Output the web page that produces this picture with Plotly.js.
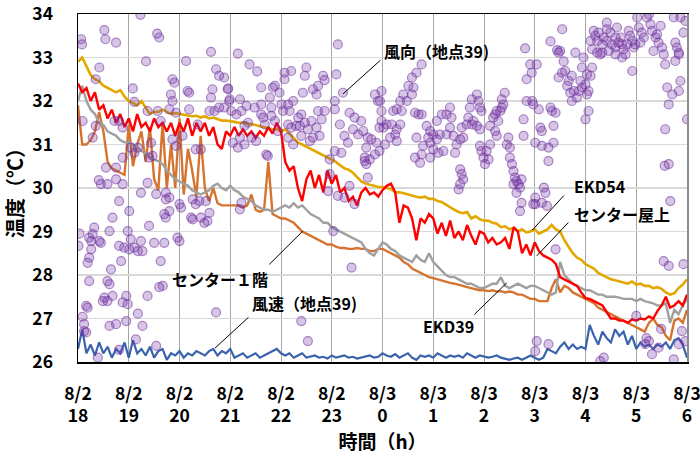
<!DOCTYPE html>
<html>
<head>
<meta charset="utf-8">
<script src="https://cdn.plot.ly/plotly-3.0.1.min.js"></script>
<style>html,body{margin:0;padding:0;background:#fff;}#chart{width:700px;height:456px;}</style>
</head>
<body>
<div id="chart"></div>
<script>
// x positions: hours elapsed since 8/2 18:00, 5-minute readings
const hours = Array.from({length: 145}, (_, i) => i / 12);
const tickHours = [0,1,2,3,4,5,6,7,8,9,10,11,12];
const tickLabels = ['8/2<br>18','8/2<br>19','8/2<br>20','8/2<br>21','8/2<br>22','8/2<br>23',
  '8/3<br>0','8/3<br>1','8/3<br>2','8/3<br>3','8/3<br>4','8/3<br>5','8/3<br>6'];

const ekd54 = [
 32.90,33.00,32.80,32.60,32.50,32.45,32.35,32.30,32.25,32.20,32.25,32.10,
 32.00,31.95,31.90,32.00,31.85,31.70,31.75,31.75,31.80,31.75,31.70,31.72,
 31.70,31.68,31.66,31.65,31.66,31.62,31.65,31.60,31.62,31.58,31.55,31.55,
 31.54,31.52,31.50,31.50,31.48,31.47,31.45,31.42,31.40,31.38,31.35,31.35,
 31.30,31.35,31.25,31.15,31.05,31.00,30.95,30.90,30.85,30.80,30.75,30.70,
 30.65,30.60,30.52,30.45,30.42,30.35,30.25,30.15,30.10,30.08,30.05,30.02,
 30.02,30.00,29.98,29.90,29.90,29.88,29.85,29.82,29.80,29.78,29.80,29.75,
 29.75,29.70,29.68,29.62,29.55,29.50,29.45,29.42,29.45,29.30,29.35,29.28,
 29.25,29.25,29.20,29.18,29.10,29.12,29.05,29.08,29.00,29.05,28.98,29.00,
 29.05,28.95,29.00,29.05,29.15,29.05,29.00,28.80,28.65,28.50,28.40,28.35,
 28.25,28.20,28.15,28.05,28.00,27.95,27.90,27.88,27.85,27.82,27.80,27.85,
 27.78,27.80,27.75,27.75,27.70,27.72,27.68,27.60,27.55,27.58,27.70,27.78,
 27.90];

const centerRoof = [
 32.4,32.2,32.3,32.0,32.2,31.8,31.9,31.6,31.8,31.5,31.7,31.4,
 31.6,31.3,31.7,31.4,31.5,31.3,31.6,31.4,31.5,31.3,31.5,31.2,
 31.5,31.3,31.6,31.2,31.5,31.3,31.5,31.2,31.4,31.0,30.9,31.3,
 31.2,31.4,31.2,31.35,31.2,31.3,31.15,31.3,31.2,31.4,31.25,31.5,
 31.3,30.6,30.4,30.5,30.0,29.7,30.2,30.4,30.0,30.3,29.9,30.4,
 30.1,30.3,29.9,30.0,29.7,29.8,29.6,29.9,30.0,29.85,29.9,29.8,
 29.95,30.05,30.1,29.9,29.2,29.6,29.55,29.3,28.8,29.3,29.2,29.4,
 29.3,28.95,29.2,28.9,29.25,28.85,29.0,28.8,29.15,28.9,28.7,29.0,
 28.95,28.75,28.85,28.7,28.75,28.85,28.6,29.1,29.0,28.5,28.7,28.45,
 28.75,28.55,28.45,28.4,28.35,28.25,27.95,27.9,27.85,27.8,27.75,27.6,
 27.47,27.45,27.4,27.35,27.3,27.15,27.0,27.0,26.95,26.95,26.9,26.98,
 26.95,27.0,26.98,27.05,27.0,27.17,27.3,27.5,27.25,27.3,27.4,27.3,
 27.55];

const ekd39 = [
 32.0,32.35,32.0,31.8,31.7,31.5,31.45,31.3,31.25,31.2,31.1,31.05,
 31.05,31.0,30.95,30.85,30.8,30.7,30.65,30.62,30.55,30.4,30.3,30.2,
 30.15,30.1,30.05,29.95,29.9,29.85,29.9,29.95,30.05,30.1,30.0,29.95,
 30.05,29.95,29.9,29.8,29.75,29.7,29.6,29.55,29.5,29.5,29.45,29.5,
 29.55,29.6,29.55,29.65,29.55,29.6,29.5,29.4,29.35,29.3,29.2,29.2,
 29.1,29.05,29.0,28.95,28.9,28.85,28.8,28.75,28.6,28.5,28.45,28.6,
 28.75,28.7,28.6,28.55,28.45,28.4,28.35,28.3,28.45,28.35,28.3,28.5,
 28.3,28.2,28.1,28.0,27.95,27.95,27.9,27.85,27.8,27.8,27.75,27.7,
 27.7,27.75,27.8,27.8,27.95,27.75,27.7,27.75,27.8,27.75,27.7,27.75,
 27.75,27.7,27.65,27.6,27.55,27.6,28.3,28.0,27.9,27.8,27.75,27.7,
 27.65,27.65,27.6,27.55,27.55,27.5,27.5,27.5,27.48,27.45,27.45,27.45,
 27.4,27.45,27.4,27.38,27.35,27.3,27.3,27.35,26.9,27.2,27.1,27.3,
 27.45];

const center1F = [
 31.9,31.0,31.0,31.1,31.3,31.75,31.3,30.6,30.45,30.4,30.35,30.3,
 31.45,30.5,31.0,31.3,30.6,31.4,30.2,29.95,31.5,30.0,31.0,30.0,
 31.6,29.85,30.9,30.4,29.8,31.2,30.0,29.7,30.0,29.65,29.6,29.6,
 29.6,29.6,29.6,29.55,29.6,29.85,29.5,29.45,29.5,30.6,29.4,29.35,
 29.3,29.3,29.25,29.2,29.1,29.0,28.95,28.9,28.85,28.8,28.75,28.7,
 28.7,28.65,28.62,28.62,28.6,28.6,28.62,28.6,28.6,28.55,28.55,28.6,
 28.6,28.55,28.5,28.45,28.4,28.3,28.25,28.15,28.1,28.05,28.0,27.95,
 27.93,27.9,27.88,27.85,27.82,27.8,27.78,27.75,27.72,27.7,27.68,27.65,
 27.65,27.63,27.65,27.62,27.63,27.6,27.62,27.6,27.55,27.55,27.5,27.45,
 27.45,27.4,27.4,27.4,27.7,27.9,27.6,27.75,27.7,27.6,27.55,27.5,
 27.45,27.4,27.35,27.25,27.2,27.15,27.1,27.05,27.0,26.95,26.9,26.85,
 26.8,26.75,26.7,26.9,27.0,26.85,26.8,26.6,26.5,26.95,27.0,26.9,
 27.2];

const windSpeed = [
 26.3,26.75,26.2,26.4,26.15,26.45,26.2,26.35,26.1,26.3,26.2,26.45,
 26.1,26.5,26.2,26.3,26.15,26.35,26.1,26.25,26.3,26.05,26.2,26.15,
 26.25,26.1,26.2,26.15,26.25,26.2,26.15,26.25,26.3,26.15,26.25,26.2,
 26.3,26.1,26.15,26.2,26.1,26.15,26.2,26.1,26.15,26.2,26.25,26.3,
 26.2,26.15,26.2,26.1,26.15,26.2,26.1,26.12,26.15,26.1,26.12,26.08,
 26.15,26.1,26.12,26.15,26.1,26.12,26.08,26.1,26.12,26.15,26.1,26.12,
 26.2,26.15,26.12,26.18,26.1,26.15,26.2,26.1,26.05,26.15,26.12,26.15,
 26.1,26.2,26.15,26.1,26.15,26.12,26.15,26.1,26.2,26.15,26.1,26.15,
 26.12,26.1,26.12,26.15,26.1,26.08,26.05,26.08,26.1,26.05,26.1,26.15,
 26.1,26.05,26.1,26.3,26.25,26.2,26.35,26.45,26.3,26.4,26.3,26.35,
 26.3,26.85,26.6,26.4,26.7,26.55,26.45,26.75,26.6,26.7,26.4,26.6,
 26.3,26.45,26.35,26.4,26.3,26.4,26.35,26.45,26.3,26.5,26.55,26.4,
 26.1];

// wind direction readings (plotted on the same scale as in the original figure)
const windHour = [
 0.06,0.08,0.52,0.54,0.75,1.23,1.56,1.60,1.34,2.62,
 2.13,0.42,0.35,2.72,2.78,2.88,2.95,1.86,1.90,1.83,
 1.86,2.16,2.19,1.08,1.11,2.62,2.69,2.78,2.88,2.98,
 2.59,2.65,1.80,1.93,2.19,1.37,1.57,1.63,0.72,0.88,
 0.81,0.35,0.09,0.29,2.36,2.32,2.42,2.06,1.93,1.86,
 1.44,1.40,1.18,1.11,1.04,1.47,0.88,0.75,0.55,0.58,
 0.75,0.41,0.45,0.88,1.37,1.24,1.73,1.80,2.00,2.03,
 1.73,1.54,2.26,2.32,2.39,2.52,2.59,2.42,2.49,2.55,
 2.23,2.26,1.70,1.73,1.80,1.40,1.01,0.81,0.68,0.62,
 0.32,0.29,0.22,0.26,0.42,0.45,0.03,0.01,0.26,0.22,
 0.19,0.81,0.91,1.01,1.11,1.18,1.27,0.98,1.04,1.24,
 1.50,1.70,1.96,2.00,0.85,0.65,1.63,0.22,0.58,0.62,
 0.16,0.19,0.09,0.12,0.52,0.58,0.68,0.49,0.95,0.88,
 0.98,1.37,1.60,1.67,1.18,1.27,0.62,0.75,0.95,1.14,
 1.54,0.81,0.39,2.72,0.12,0.16,
 3.15,3.38,3.53,3.61,3.19,2.99,2.96,3.32,3.22,3.12,
 3.02,3.48,3.61,3.65,3.81,3.78,3.84,3.88,3.97,3.81,
 3.88,4.01,4.04,4.14,4.17,4.24,4.07,4.20,4.07,4.50,
 4.47,4.43,4.63,4.70,4.83,4.86,4.73,4.73,4.80,4.86,
 4.60,4.47,4.40,4.37,4.34,4.14,4.30,4.53,4.70,4.76,
 4.63,4.57,4.40,4.20,4.14,4.24,3.94,3.68,3.61,3.35,
 3.28,3.19,3.28,3.15,3.05,3.51,3.71,3.74,3.42,5.06,
 5.16,5.22,5.12,5.09,5.06,5.35,5.45,5.42,5.25,5.32,
 5.19,5.06,4.96,4.96,4.93,5.12,5.45,5.35,5.25,5.03,
 5.68,5.65,5.62,5.58,5.52,5.71,5.78,5.65,5.75,5.85,
 5.94,5.88,5.94,5.98,5.91,5.98,5.85,5.68,5.71,5.39,
 4.40,4.53,3.19,3.22,
 8.81,8.91,8.94,8.84,6.77,6.67,6.58,6.51,6.61,6.58,
 6.41,6.35,6.48,6.38,6.28,6.21,6.18,6.02,6.08,5.98,
 5.95,6.15,6.25,6.28,6.35,6.28,6.05,6.64,6.71,6.77,
 6.87,6.94,7.00,6.90,6.94,6.67,6.80,6.77,6.64,6.74,
 7.00,6.94,7.10,7.20,7.07,7.13,7.26,7.33,7.36,7.33,
 7.17,7.26,7.07,7.40,7.53,7.59,7.46,7.43,7.56,7.66,
 7.76,7.69,7.79,7.86,7.92,7.72,7.76,7.86,7.89,7.92,
 7.95,7.53,7.56,7.59,7.50,7.53,8.12,8.18,8.22,8.25,
 8.32,8.35,8.38,8.41,8.35,8.28,8.22,8.25,8.12,8.05,
 7.99,8.02,8.09,7.92,7.95,8.48,8.51,8.45,8.51,8.55,
 8.58,8.61,8.64,8.68,8.71,8.64,8.74,8.71,8.74,8.58,
 8.78,8.78,8.84,8.97,8.97,9.01,
 9.54,9.31,9.44,9.47,9.50,9.57,9.54,9.60,9.47,9.67,
 9.64,9.73,9.77,9.70,9.73,9.83,9.87,9.93,9.90,10.00,
 10.06,10.03,10.10,9.93,9.96,10.03,10.06,10.00,9.80,9.31,
 9.34,9.41,9.11,9.14,9.37,9.37,9.27,9.14,9.01,8.95,
 9.08,9.04,9.27,9.18,9.21,9.24,9.14,9.01,9.41,9.04,
 9.27,10.29,10.36,9.01,10.16,10.19,10.26,10.23,10.33,10.36,
 10.42,10.42,10.49,10.52,10.59,10.65,10.62,10.69,10.72,10.75,
 10.79,10.82,10.85,10.88,10.92,10.92,10.95,10.98,11.02,11.05,
 11.11,11.08,11.15,11.21,11.25,11.28,11.31,11.34,11.38,11.41,
 11.44,11.48,11.51,11.54,11.57,11.61,11.64,11.57,11.64,11.56,
 11.67,11.77,11.80,11.84,11.84,11.77,11.84,11.87,11.71,11.74,
 11.87,11.97,11.93,12.00,11.54,11.64,11.93,11.90,11.97,11.84,
 11.74,11.18,11.25,11.31,11.44,10.23,10.13,10.10,10.13,10.29,
 10.46,10.59,10.72,10.33,10.59,10.42,11.00,11.49,11.20];

const windDir = [
 33.42,33.30,33.63,33.42,33.34,33.98,33.55,33.46,32.91,33.13,
 32.92,32.77,32.50,32.73,32.58,32.54,32.27,32.50,32.42,32.15,
 32.00,32.23,32.19,32.29,31.98,32.08,31.77,31.85,31.85,32.00,
 31.77,32.27,31.81,31.73,31.81,31.77,31.77,31.54,31.54,31.39,
 31.54,31.43,31.54,31.16,31.46,30.89,30.89,31.20,30.97,31.12,
 31.04,30.70,30.93,30.81,30.93,30.74,30.70,30.47,30.47,30.09,
 30.20,30.18,30.09,30.09,30.12,29.89,29.89,29.78,29.63,29.55,
 29.74,29.86,29.74,29.63,29.70,29.70,29.43,29.32,29.20,29.24,
 29.32,29.28,29.40,29.32,29.47,29.13,29.47,29.70,29.32,29.01,
 29.09,28.94,28.86,28.78,28.78,28.74,28.95,28.67,28.59,28.40,
 28.28,28.67,28.63,28.59,28.63,28.55,28.55,29.01,28.82,28.78,
 28.74,28.74,28.86,28.78,28.32,28.13,28.32,27.86,27.86,27.79,
 27.29,27.25,27.04,26.87,27.48,27.40,27.52,27.40,27.52,27.37,
 27.33,27.52,27.72,27.75,27.11,26.83,26.83,26.87,26.94,26.52,
 26.37,26.28,26.10,27.14,26.71,26.68,
 33.09,32.84,32.68,32.31,32.04,32.04,32.29,31.89,31.77,31.69,
 31.77,31.85,31.92,31.62,31.85,32.08,32.31,32.35,32.19,31.66,
 31.54,31.92,31.77,31.92,31.77,32.00,32.65,32.69,32.50,32.77,
 32.58,32.19,32.27,32.15,32.58,32.48,32.35,31.77,31.58,31.77,
 31.54,31.50,31.69,31.43,31.62,31.46,31.43,31.35,31.39,31.20,
 31.16,31.08,31.20,31.39,31.16,31.00,31.31,31.46,31.69,31.50,
 31.43,31.16,31.00,30.93,31.04,31.08,30.77,30.74,31.16,32.00,
 31.46,32.19,33.30,32.61,31.81,31.73,31.62,31.35,31.20,31.04,
 30.81,30.85,30.66,30.32,29.93,29.82,29.63,30.05,29.78,29.01,
 30.93,30.70,31.31,31.54,31.23,31.16,31.12,30.62,30.66,30.77,
 30.85,31.04,31.39,31.54,32.00,32.23,32.15,30.55,30.24,28.17,
 26.94,26.48,29.51,29.66,
 33.21,32.84,32.65,32.50,32.84,32.65,32.54,32.35,32.31,32.15,
 32.15,32.00,32.00,31.77,31.81,31.77,31.46,31.39,31.46,31.77,
 32.00,31.16,31.23,31.35,31.46,31.08,31.00,31.73,31.69,31.69,
 31.43,31.31,31.23,31.16,31.04,31.16,30.97,30.77,30.70,30.58,
 30.89,30.70,30.81,30.85,31.12,31.23,31.23,31.39,31.62,31.85,
 31.69,31.69,31.54,31.20,31.12,31.16,31.00,30.81,31.39,31.46,
 31.46,31.62,31.54,31.43,31.35,31.85,32.04,32.15,32.00,31.85,
 31.77,30.43,30.32,30.20,29.97,30.09,31.43,31.62,31.69,31.77,
 31.77,31.85,31.92,32.19,32.04,31.54,31.31,31.20,31.00,30.85,
 30.70,30.55,30.66,30.97,30.85,31.16,30.93,31.00,30.70,30.55,
 30.39,30.24,30.16,30.09,30.01,29.89,29.66,29.47,30.20,30.09,
 31.58,31.20,32.00,31.92,29.63,29.78,
 33.65,33.37,33.17,33.11,33.15,32.91,32.65,32.69,32.54,32.46,
 32.35,32.58,32.23,32.19,32.00,32.08,32.23,32.31,32.46,32.38,
 32.23,32.15,32.58,32.77,33.00,32.61,31.77,31.58,33.11,31.85,
 31.77,31.73,31.39,31.31,31.43,31.04,30.93,30.97,31.04,32.00,
 31.81,32.84,30.62,30.01,29.89,29.59,29.66,29.63,28.59,26.48,
 26.41,26.02,26.10,26.25,33.61,33.50,33.57,33.38,33.30,33.46,
 33.80,33.65,33.57,33.30,33.23,33.34,33.69,33.46,33.30,33.19,
 33.07,33.30,33.61,33.50,33.38,32.69,33.23,33.30,33.92,33.69,
 33.57,33.34,33.46,33.92,33.99,33.76,33.61,33.15,33.46,33.53,
 33.34,33.73,33.23,33.07,32.84,32.31,31.92,31.35,30.55,30.51,
 29.70,33.34,33.23,33.11,33.07,32.92,32.23,32.46,32.15,33.92,
 33.92,33.84,33.57,31.58,28.32,28.21,28.25,26.71,26.48,26.41,
 26.06,26.41,26.48,26.18,26.33,33.11,33.19,33.38,32.77,33.07,
 33.15,33.07,33.00,33.11,33.46,33.38,27.06,26.76,26.55];

const FONT = '"Noto Sans CJK JP", "Noto Sans", sans-serif';

function lineTrace(name, y, color, width) {
  return {type: 'scatter', mode: 'lines', name: name, x: hours, y: y,
          line: {color: color, width: width}, hoverinfo: 'name+y'};
}

const traces = [
  {type: 'scatter', mode: 'markers', name: '風向（地点39)', x: windHour, y: windDir, yaxis: 'y2',
   marker: {size: 9, color: 'rgba(112,48,160,0.28)', line: {color: 'rgba(112,48,160,0.55)', width: 1.2}}},
  lineTrace('風速（地点39)', windSpeed, '#3A63AE', 2.2),
  lineTrace('センター１階', center1F, '#D6742F', 2.4),
  lineTrace('EKD39', ekd39, '#A0A0A0', 2.4),
  lineTrace('EKD54', ekd54, '#E2A800', 2.6),
  lineTrace('センター屋上', centerRoof, '#FF0000', 2.4)
];

// leader lines: head = point on series, tail = near label
const leaders = [
  {hx: 5.22, hy: 32.16, tx: 5.99, ty: 32.97},
  {hx: 8.95, hy: 29.03, tx: 9.60, ty: 29.86},
  {hx: 9.04, hy: 28.44, tx: 9.69, ty: 29.24},
  {hx: 8.45, hy: 27.82, tx: 7.78, ty: 27.06},
  {hx: 4.43, hy: 29.01, tx: 3.74, ty: 28.21},
  {hx: 2.70, hy: 26.32, tx: 3.39, ty: 27.06}
];
const labels = [
  {x: 5.99, y: 33.15, text: '風向（地点39)', anchor: 'left'},
  {x: 9.73, y: 30.05, text: 'EKD54', anchor: 'left'},
  {x: 9.73, y: 29.40, text: 'センター屋上', anchor: 'left'},
  {x: 7.31, y: 26.83, text: 'EKD39', anchor: 'center'},
  {x: 2.80, y: 27.91, text: 'センター１階', anchor: 'center'},
  {x: 3.39, y: 27.36, text: '風速（地点39)', anchor: 'left'}
];

const annotations = [];
leaders.forEach(l => annotations.push({
  x: l.hx, y: l.hy, ax: l.tx, ay: l.ty, xref: 'x', yref: 'y', axref: 'x', ayref: 'y',
  text: '', showarrow: true, arrowhead: 0, arrowwidth: 1, arrowcolor: '#000'
}));
labels.forEach(l => annotations.push({
  x: l.x, y: l.y, xref: 'x', yref: 'y', text: l.text, showarrow: false,
  xanchor: l.anchor, yanchor: 'middle',
  font: {family: FONT, size: 16, color: '#000', weight: 'bold'}
}));

const layout = {
  width: 700, height: 456,
  margin: {l: 78, r: 13, t: 14, b: 94},
  paper_bgcolor: '#fff', plot_bgcolor: '#fff',
  font: {family: FONT, color: '#000'},
  showlegend: false,
  xaxis: {
    range: [0, 12], tickmode: 'array', tickvals: tickHours, ticktext: tickLabels,
    showgrid: true, gridcolor: '#a6a6a6', gridwidth: 1, zeroline: false,
    showline: true, linecolor: '#000', linewidth: 1.5, mirror: true,
    ticks: '', ticklabelstandoff: 15, ticklabeloverflow: 'allow',
    tickfont: {family: FONT, size: 17.5, color: '#000', weight: 'bold'},
    title: {text: '時間（h）', font: {family: FONT, size: 19, color: '#000', weight: 'bold'}, standoff: 9}
  },
  yaxis: {
    range: [26, 34], tickmode: 'array', tickvals: [26,27,28,29,30,31,32,33,34],
    showgrid: true, gridcolor: '#d9d9d9', gridwidth: 1.5, zeroline: false,
    showline: true, linecolor: '#000', linewidth: 1.5,
    ticks: '', ticklabelstandoff: 20, ticklabeloverflow: 'allow',
    tickfont: {family: FONT, size: 17.5, color: '#000', weight: 'bold'},
    title: {text: '温度（℃）', font: {family: FONT, size: 20, color: '#000', weight: 'bold'}, standoff: 8}
  },
  yaxis2: {
    overlaying: 'y', side: 'right', range: [26, 34], showgrid: false, zeroline: false,
    showticklabels: false, ticks: '', showline: true, linecolor: '#8c8c8c', linewidth: 2
  },
  annotations: annotations
};

Plotly.newPlot('chart', traces, layout, {staticPlot: true, displayModeBar: false});
</script>
</body>
</html>
